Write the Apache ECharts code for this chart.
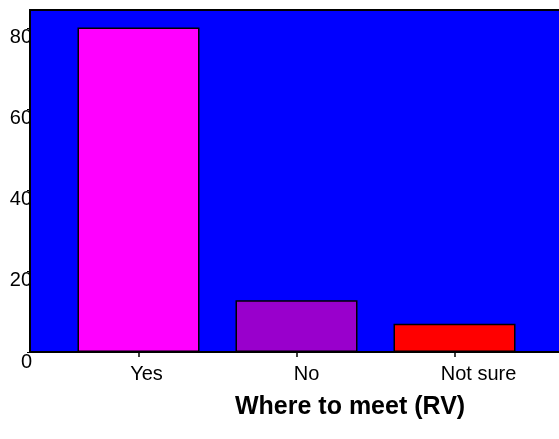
<!DOCTYPE html>
<html>
<head>
<meta charset="utf-8">
<script src="https://cdn.jsdelivr.net/npm/echarts@6/dist/echarts.min.js"></script>
<style>
  html, body { margin: 0; padding: 0; background: #fff; }
  #main { width: 559px; height: 439px; }
</style>
</head>
<body>
<div id="main"></div>
<script>
// data (percent)
var categories = ['Yes', 'No', 'Not sure'];
var values = [80.1, 12.8, 7.0];
var barColors = ['#ff00ff', '#9900cc', '#ff0000'];
var yTicks = [0, 20, 40, 60, 80];
var yMax = 84.4;
// labels sit a little right of their ticks in the original
var labelShift = [16, 20, 48];

var chart = echarts.init(document.getElementById('main'), null, { renderer: 'canvas' });

var fontFam = 'Arial, "Liberation Sans", sans-serif';

var option = {
  animation: false,
  title: {
    text: 'Where to meet (RV)',
    left: 230,
    top: 390,
    textStyle: { fontFamily: fontFam, fontSize: 25, fontWeight: 'bold', color: '#000' }
  },
  // blue plot panel, drawn over the y labels, runs off the right edge
  graphic: [{
    type: 'rect',
    z: 1,
    silent: true,
    shape: { x: 30, y: 10, width: 560, height: 342 },
    style: { fill: '#0000ff', stroke: '#000', lineWidth: 2 }
  }],
  grid: [
    { left: 30, top: 10, right: -10, bottom: 87 },
    { left: 59.5, top: 10, right: 25.5, bottom: 87 }
  ],
  xAxis: [
    { type: 'value', gridIndex: 0, show: false },
    {
      type: 'category', gridIndex: 1,
      data: categories.map(function (c, i) {
        return { value: c, textStyle: { padding: [0, 0, 0, labelShift[i]] } };
      }),
      axisLine: { show: false },
      axisTick: { show: true, alignWithLabel: true, length: 5, lineStyle: { color: '#000', width: 1.5 } },
      axisLabel: { color: '#000', fontSize: 20, fontFamily: fontFam, margin: 12 }
    }
  ],
  yAxis: [
    {
      type: 'value', gridIndex: 0, min: 0, max: yMax, interval: 20, z: 0,
      splitLine: { show: false },
      axisLine: { show: false },
      axisTick: { show: true, length: 3, lineStyle: { color: '#000' } },
      axisLabel: {
        color: '#000', fontSize: 20, fontFamily: fontFam, margin: -2,
        verticalAlign: 'top', showMaxLabel: false,
        formatter: function (v) { return yTicks.indexOf(v) >= 0 ? String(v) : ''; }
      }
    },
    { type: 'value', gridIndex: 1, min: 0, max: yMax, show: false, splitLine: { show: false } }
  ],
  series: [{
    type: 'bar',
    xAxisIndex: 1,
    yAxisIndex: 1,
    barWidth: 122,
    z: 3,
    data: values.map(function (v, i) {
      return { value: v, itemStyle: { color: barColors[i] } };
    }),
    itemStyle: { borderColor: '#000', borderWidth: 1.5 }
  }]
};

chart.setOption(option);
</script>
</body>
</html>
